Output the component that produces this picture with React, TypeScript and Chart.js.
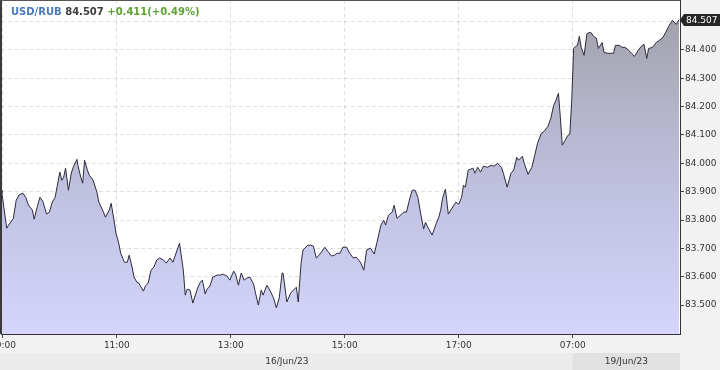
import React, { useEffect, useRef } from "react";
import { Chart, registerables } from "chart.js";

Chart.register(...registerables);

// minutes on the compressed session axis, 0 = 09:00 on 16/Jun/23, 600 = 07:00 on 19/Jun/23
const minutes = [
  -2, -1, 1, 4, 6, 11, 14, 17, 21, 24,
  27, 31, 33, 36, 39, 42, 46, 49, 52, 55,
  57, 60, 62, 64, 66, 69, 72, 74, 78, 79,
  82, 84, 86, 89, 91, 95, 99, 101, 105, 108,
  112, 114, 117, 119, 122, 124, 128, 131, 133, 136,
  138, 141, 143, 148, 150, 153, 156, 159, 162, 165,
  169, 172, 176, 179, 182, 186, 190, 192, 194, 197,
  200, 205, 208, 210, 213, 215, 218, 221, 226, 229,
  232, 236, 239, 243, 245, 248, 251, 254, 257, 260,
  264, 266, 269, 272, 274, 278, 281, 285, 288, 291,
  294, 295, 299, 303, 306, 309, 311, 314, 316, 321,
  324, 327, 330, 333, 339, 342, 346, 349, 352, 355,
  358, 362, 365, 369, 372, 374, 377, 380, 383, 387,
  391, 394, 398, 401, 403, 406, 410, 412, 415, 420,
  422, 425, 428, 431, 434, 437, 440, 443, 445, 448,
  452, 456, 459, 461, 463, 466, 469, 473, 477, 480,
  483, 485, 487, 490, 495, 497, 500, 503, 506, 510,
  514, 517, 521, 525, 527, 531, 535, 538, 541, 543,
  547, 549, 553, 557, 560, 563, 567, 570, 574, 577,
  580, 582, 585, 587, 589, 592, 595, 597, 599, 601,
  603, 605, 607, 609, 612, 615, 619, 622, 625, 627,
  631, 633, 637, 640, 643, 645, 649, 652, 655, 658,
  662, 665, 669, 672, 675, 678, 680, 684, 688, 691,
  695, 698, 701, 705, 709, 712,
];

const rates = [
  83.905, 83.895, 83.845, 83.771, 83.782, 83.806, 83.870, 83.888, 83.895, 83.880,
  83.852, 83.835, 83.803, 83.845, 83.880, 83.866, 83.821, 83.828, 83.863, 83.880,
  83.916, 83.969, 83.940, 83.951, 83.983, 83.905, 83.965, 83.986, 84.014, 83.993,
  83.951, 83.930, 84.011, 83.976, 83.958, 83.940, 83.898, 83.863, 83.835, 83.810,
  83.835, 83.859, 83.799, 83.754, 83.718, 83.683, 83.651, 83.651, 83.676, 83.634,
  83.599, 83.581, 83.578, 83.549, 83.567, 83.578, 83.623, 83.634, 83.659, 83.666,
  83.659, 83.648, 83.666, 83.651, 83.680, 83.718, 83.623, 83.535, 83.556, 83.553,
  83.507, 83.560, 83.581, 83.588, 83.539, 83.556, 83.567, 83.599, 83.606, 83.606,
  83.609, 83.602, 83.588, 83.620, 83.609, 83.570, 83.613, 83.588, 83.595, 83.599,
  83.574, 83.542, 83.500, 83.553, 83.535, 83.570, 83.553, 83.525, 83.490, 83.525,
  83.613, 83.613, 83.511, 83.542, 83.553, 83.563, 83.511, 83.648, 83.694, 83.711,
  83.711, 83.708, 83.666, 83.676, 83.704, 83.690, 83.673, 83.676, 83.683, 83.683,
  83.704, 83.704, 83.683, 83.666, 83.669, 83.662, 83.648, 83.623, 83.694, 83.701,
  83.680, 83.722, 83.782, 83.799, 83.782, 83.817, 83.828, 83.852, 83.806, 83.821,
  83.828, 83.828, 83.870, 83.905, 83.905, 83.880, 83.821, 83.768, 83.792, 83.771,
  83.747, 83.785, 83.810, 83.835, 83.877, 83.909, 83.821, 83.842, 83.863, 83.856,
  83.880, 83.923, 83.916, 83.976, 83.983, 83.965, 83.986, 83.969, 83.990, 83.986,
  83.993, 83.990, 84.000, 83.986, 83.965, 83.916, 83.965, 83.976, 84.021, 84.011,
  84.025, 84.000, 83.961, 83.986, 84.028, 84.071, 84.106, 84.113, 84.131, 84.159,
  84.205, 84.219, 84.247, 84.162, 84.064, 84.081, 84.099, 84.102, 84.222, 84.405,
  84.412, 84.416, 84.448, 84.409, 84.381, 84.458, 84.462, 84.448, 84.441, 84.405,
  84.426, 84.391, 84.388, 84.388, 84.388, 84.416, 84.416, 84.409, 84.409, 84.402,
  84.388, 84.377, 84.398, 84.412, 84.420, 84.370, 84.405, 84.409, 84.426, 84.433,
  84.444, 84.462, 84.483, 84.504, 84.490, 84.507,
];

const xTickMinutes = [0, 120, 240, 360, 480, 600];
const xTickLabels = ["09:00", "11:00", "13:00", "15:00", "17:00", "07:00"];
const yTickValues = [83.5, 83.6, 83.7, 83.8, 83.9, 84.0, 84.1, 84.2, 84.3, 84.4, 84.5];
const dayLabels = ["16/Jun/23", "19/Jun/23"];
const dayStartMinutes = [-2, 600];
const dayEndMinutes = [600, 713];
const pairName = "USD/RUB";
const lastPrice = 84.507;
const changeText = "+0.411(+0.49%)";

const X_MIN = -2;
const X_MAX = 713;
const Y_MIN = 83.398;
const Y_MAX = 84.576;

const FONT = "'DejaVu Sans', Verdana, sans-serif";

const framePlugin = {
  id: "frame",
  beforeDraw(chart: any) {
    const { ctx, chartArea: a, width, height } = chart;
    const xs = chart.scales.x;
    ctx.save();
    ctx.fillStyle = "#f2f2f2";
    ctx.fillRect(0, 0, width, height);
    ctx.fillStyle = "#ffffff";
    ctx.fillRect(a.left, a.top, a.right - a.left, a.bottom - a.top);
    const bandTop = a.bottom + 19;
    ctx.fillStyle = "#ebebeb";
    ctx.fillRect(0, bandTop, a.right, height - bandTop);
    for (let i = 0; i < dayLabels.length; i++) {
      if (i % 2 === 1) {
        const x0 = xs.getPixelForValue(dayStartMinutes[i]);
        const x1 = xs.getPixelForValue(dayEndMinutes[i]);
        ctx.fillStyle = "#e1e1e1";
        ctx.fillRect(x0, bandTop, x1 - x0, height - bandTop);
      }
    }
    ctx.restore();
  },
  afterDraw(chart: any) {
    const { ctx, chartArea: a, height } = chart;
    const xs = chart.scales.x;
    const ys = chart.scales.y;
    ctx.save();
    // frame left/top
    ctx.fillStyle = "#3a3a3a";
    ctx.fillRect(0, 0, 2, a.bottom);
    ctx.fillStyle = "#555";
    ctx.fillRect(0, 0, a.right, 1);

    // date labels
    const bandTop = a.bottom + 19;
    ctx.font = `9px ${FONT}`;
    ctx.fillStyle = "#333";
    ctx.textAlign = "center";
    ctx.textBaseline = "middle";
    for (let i = 0; i < dayLabels.length; i++) {
      const x0 = Math.max(a.left, xs.getPixelForValue(dayStartMinutes[i]));
      const x1 = Math.min(a.right, xs.getPixelForValue(dayEndMinutes[i]));
      ctx.fillText(dayLabels[i], (x0 + x1) / 2, (bandTop + height) / 2);
    }

    // title
    ctx.textAlign = "left";
    ctx.font = `bold 10px ${FONT}`;
    let tx = 11;
    const ty = 12;
    const parts = [
      { t: pairName + " ", c: "#4b78bd" },
      { t: lastPrice.toFixed(3) + " ", c: "#3d3d3d" },
      { t: changeText, c: "#5ea232" },
    ];
    for (const p of parts) {
      ctx.fillStyle = p.c;
      ctx.fillText(p.t, tx, ty);
      tx += ctx.measureText(p.t).width;
    }

    // last price tag
    const py = Math.round(ys.getPixelForValue(lastPrice));
    const tipX = a.right;
    ctx.fillStyle = "#262626";
    ctx.beginPath();
    ctx.moveTo(tipX, py);
    ctx.lineTo(tipX + 4, py - 6);
    ctx.lineTo(chart.width, py - 6);
    ctx.lineTo(chart.width, py + 6);
    ctx.lineTo(tipX + 4, py + 6);
    ctx.closePath();
    ctx.fill();
    ctx.fillStyle = "#ffffff";
    ctx.font = `9px ${FONT}`;
    ctx.fillText(lastPrice.toFixed(3), tipX + 6, py + 0.5);
    ctx.restore();
  },
};

export default function App() {
  const ref = useRef<HTMLCanvasElement | null>(null);

  useEffect(() => {
    document.body.style.margin = "0";
    const canvas = ref.current;
    if (!canvas) return;
    const points = minutes.map((m, i) => ({ x: m, y: rates[i] }));
    const chart = new Chart(canvas, {
      type: "line",
      data: {
        datasets: [
          {
            data: points,
            borderColor: "#2b2b3c",
            borderWidth: 1,
            pointRadius: 0,
            tension: 0,
            fill: "start",
            backgroundColor: (context: any) => {
              const area = context.chart.chartArea;
              if (!area) return "rgba(200,200,240,1)";
              const g = context.chart.ctx.createLinearGradient(0, area.top, 0, area.bottom);
              g.addColorStop(0, "rgb(158,158,164)");
              g.addColorStop(0.3, "rgb(178,178,200)");
              g.addColorStop(0.65, "rgb(196,196,230)");
              g.addColorStop(1, "rgb(213,213,251)");
              return g;
            },
          },
        ],
      },
      options: {
        animation: false,
        responsive: false,
        devicePixelRatio: 1,
        layout: { padding: { left: 1, top: 0, right: 0, bottom: 0 } },
        plugins: { legend: { display: false }, tooltip: { enabled: false } },
        scales: {
          x: {
            type: "linear",
            min: X_MIN,
            max: X_MAX,
            z: 1,
            afterBuildTicks: (scale: any) => {
              scale.ticks = xTickMinutes.map((v) => ({ value: v }));
            },
            afterFit: (scale: any) => {
              scale.height = 36;
              scale.paddingLeft = 0;
              scale.paddingRight = 0;
            },
            ticks: {
              autoSkip: false,
              maxRotation: 0,
              minRotation: 0,
              padding: 2,
              color: "#333",
              font: { family: FONT, size: 9 },
              callback: (value: any) => {
                const idx = xTickMinutes.indexOf(Number(value));
                return idx >= 0 ? xTickLabels[idx] : "";
              },
            },
            grid: {
              color: "rgba(150,150,150,0.3)",
              tickColor: "#444",
              tickLength: 4,
              tickBorderDash: [],
            },
            border: { display: true, color: "#333", width: 1, dash: [4, 3] },
          },
          y: {
            type: "linear",
            position: "right",
            min: Y_MIN,
            max: Y_MAX,
            z: 1,
            afterBuildTicks: (scale: any) => {
              scale.ticks = yTickValues.map((v) => ({ value: v }));
            },
            afterFit: (scale: any) => {
              scale.width = 40;
              scale.paddingTop = 0;
              scale.paddingBottom = 0;
            },
            ticks: {
              autoSkip: false,
              padding: 1,
              color: "#333",
              font: { family: FONT, size: 9 },
              callback: (value: any) => Number(value).toFixed(3),
            },
            grid: {
              color: "rgba(150,150,150,0.3)",
              tickColor: "#444",
              tickLength: 4,
              tickBorderDash: [],
            },
            border: { display: true, color: "#333", width: 1, dash: [4, 3] },
          },
        },
      } as any,
      plugins: [framePlugin],
    });
    return () => chart.destroy();
  }, []);

  return (
    <div style={{ position: "absolute", left: 0, top: 0, width: 720, height: 370 }}>
      <canvas ref={ref} width={720} height={370} style={{ display: "block", width: 720, height: 370 }} />
    </div>
  );
}
